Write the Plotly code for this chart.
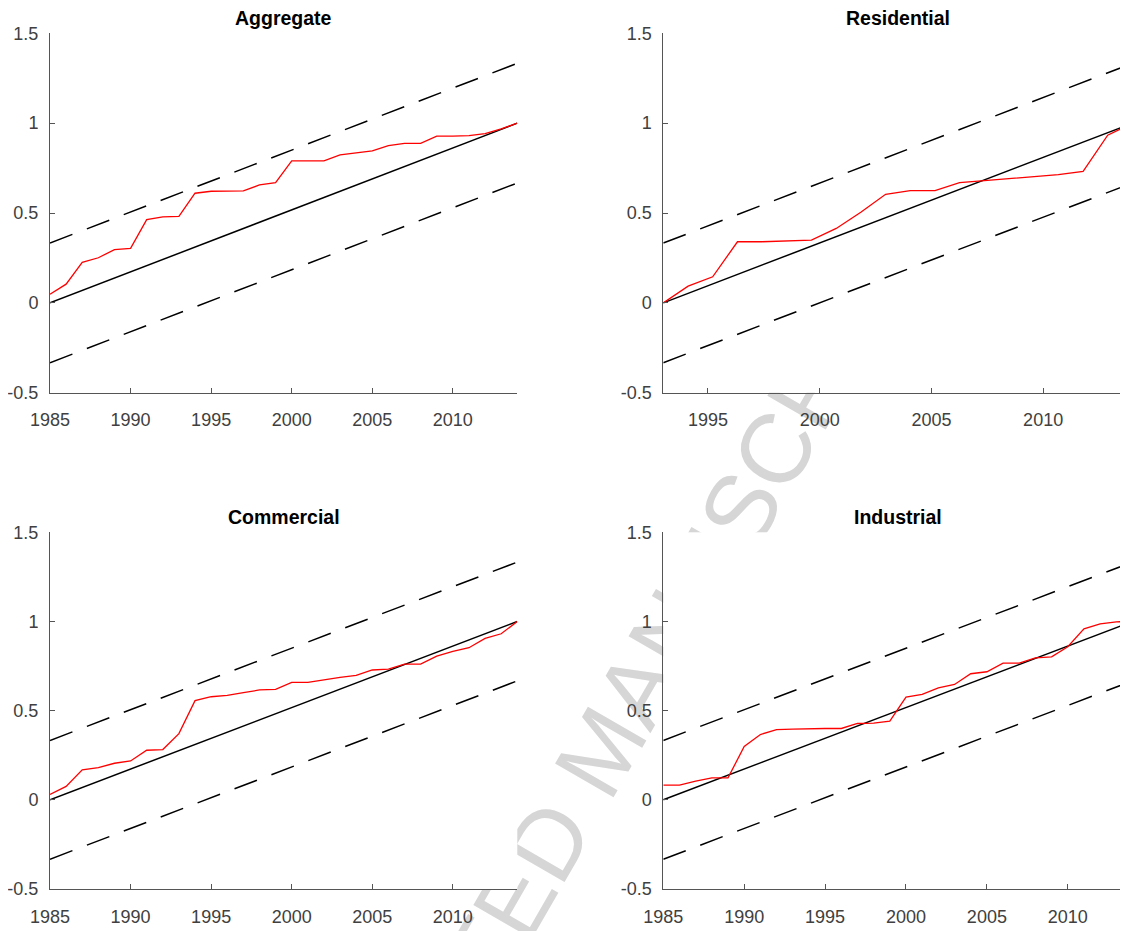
import plotly.graph_objects as go

# ---------------- data ----------------
years = [1985, 1986, 1987, 1988, 1989, 1990, 1991, 1992, 1993, 1994,
         1995, 1996, 1997, 1998, 1999, 2000, 2001, 2002, 2003, 2004,
         2005, 2006, 2007, 2008, 2009, 2010, 2011, 2012, 2013, 2014]

years_res = [1993.00, 1994.11, 1995.21, 1996.32, 1997.42, 1998.53, 1999.63,
             2000.74, 2001.84, 2002.95, 2004.05, 2005.16, 2006.26, 2007.37,
             2008.47, 2009.58, 2010.68, 2011.79, 2012.89, 2014.00]

aggregate = [0.048, 0.104, 0.225, 0.251, 0.296, 0.303, 0.463, 0.478, 0.481, 0.610,
             0.621, 0.623, 0.623, 0.656, 0.669, 0.790, 0.790, 0.790, 0.823, 0.833,
             0.846, 0.875, 0.887, 0.888, 0.928, 0.928, 0.931, 0.942, 0.968, 1.000]

residential = [0.000, 0.093, 0.145, 0.340, 0.340, 0.346, 0.349, 0.414, 0.504, 0.604,
               0.625, 0.625, 0.669, 0.680, 0.690, 0.703, 0.714, 0.732, 0.933, 1.000]

commercial = [0.030, 0.075, 0.168, 0.181, 0.205, 0.218, 0.278, 0.282, 0.371, 0.556,
              0.578, 0.586, 0.601, 0.616, 0.619, 0.659, 0.659, 0.674, 0.687, 0.698,
              0.728, 0.733, 0.761, 0.761, 0.806, 0.832, 0.853, 0.905, 0.931, 1.000]

industrial = [0.082, 0.082, 0.105, 0.123, 0.123, 0.299, 0.366, 0.394, 0.396, 0.400,
              0.400, 0.400, 0.428, 0.430, 0.441, 0.576, 0.591, 0.628, 0.647, 0.707,
              0.718, 0.766, 0.766, 0.796, 0.802, 0.858, 0.959, 0.987, 0.998, 1.000]

expected_line = [0.0, 1.0]     # expected path (start, end)
band_width = 0.333            # critical bound offset

yticks = [-0.5, 0, 0.5, 1, 1.5]
ytick_labels = ["-0.5", "0", "0.5", "1", "1.5"]
xticks_full = [1985, 1990, 1995, 2000, 2005, 2010]
xticks_res = [1995, 2000, 2005, 2010]

titles = ["Aggregate", "Residential", "Commercial", "Industrial"]
watermark = "ACCEPTED MANUSCRIPT"

# ---------------- layout geometry ----------------
W, H = 1128, 931
OFF = 8  # page offset of the figure inside the browser window


def px(sx):
    return (sx - OFF) / W


def py(sy):
    return 1 - (sy - OFF) / H


left_dom = [px(50), px(517.3)]
right_dom = [px(663.3), px(1132.5)]
top_dom = [py(392.7), py(33.3)]
bot_dom = [py(889.0), py(532.3)]

panels = [
    dict(title=titles[0], x=years, y=aggregate, xr=[1985, 2014], xt=xticks_full,
         xd=left_dom, yd=top_dom, n=2),
    dict(title=titles[1], x=years_res, y=residential, xr=[1993, 2014], xt=xticks_res,
         xd=right_dom, yd=top_dom, n=3),
    dict(title=titles[2], x=years, y=commercial, xr=[1985, 2014], xt=xticks_full,
         xd=left_dom, yd=bot_dom, n=4),
    dict(title=titles[3], x=years, y=industrial, xr=[1985, 2014], xt=xticks_full,
         xd=right_dom, yd=bot_dom, n=5),
]

fig = go.Figure()

# full-page background subplot (lets the panel backgrounds hide the watermark)
fig.add_trace(go.Scatter(x=[0], y=[0], mode="markers", marker=dict(opacity=0),
                         hoverinfo="skip", showlegend=False, xaxis="x", yaxis="y"))

axis_font = dict(family="Liberation Sans, Arial, sans-serif", size=18, color="#404040")
axcol = "#555555"

layout_axes = {
    "xaxis": dict(domain=[0, 1], range=[0, 1], visible=False, fixedrange=True, automargin=False),
    "yaxis": dict(domain=[0, 1], range=[0, 1], visible=False, fixedrange=True, automargin=False),
}

annotations = []
for p in panels:
    n = p["n"]
    xa, ya = f"x{n}", f"y{n}"
    xs = [p["x"][0], p["x"][-1]]
    # expected line
    fig.add_trace(go.Scatter(x=xs, y=expected_line, mode="lines",
                             line=dict(color="black", width=1.5),
                             xaxis=xa, yaxis=ya, showlegend=False, hoverinfo="skip"))
    # bounds
    fig.add_trace(go.Scatter(x=xs, y=[v + band_width for v in expected_line], mode="lines",
                             line=dict(color="black", width=1.5, dash="24px,15.5px"),
                             xaxis=xa, yaxis=ya, showlegend=False, hoverinfo="skip"))
    fig.add_trace(go.Scatter(x=xs, y=[v - band_width for v in expected_line], mode="lines",
                             line=dict(color="black", width=1.5, dash="24px,15.5px"),
                             xaxis=xa, yaxis=ya, showlegend=False, hoverinfo="skip"))
    # statistic
    fig.add_trace(go.Scatter(x=p["x"], y=p["y"], mode="lines",
                             line=dict(color="#ff0000", width=1.3),
                             xaxis=xa, yaxis=ya, showlegend=False, name=p["title"]))

    layout_axes[f"xaxis{n}"] = dict(
        domain=p["xd"], anchor=ya, range=p["xr"], tickmode="array",
        tickvals=p["xt"], ticktext=[str(t) for t in p["xt"]],
        showline=True, linecolor=axcol, linewidth=1, ticks="inside", ticklen=5,
        tickcolor=axcol, tickwidth=1, showgrid=False, zeroline=False, automargin=False,
        tickfont=axis_font, ticklabelstandoff=11)
    layout_axes[f"yaxis{n}"] = dict(
        domain=p["yd"], anchor=xa, range=[-0.5, 1.5], tickmode="array",
        tickvals=yticks, ticktext=ytick_labels,
        showline=True, linecolor=axcol, linewidth=1, ticks="inside", ticklen=5,
        tickcolor=axcol, tickwidth=1, showgrid=False, zeroline=False, automargin=False,
        tickfont=axis_font, ticklabelstandoff=7)

    annotations.append(dict(
        text=f"<b>{p['title']}</b>", xref="paper", yref="paper",
        x=(p["xd"][0] + p["xd"][1]) / 2, y=p["yd"][1] + 15.5 / H,
        xanchor="center", yanchor="middle", showarrow=False,
        font=dict(family="Liberation Sans, Arial, sans-serif", size=19.5, color="black")))

# watermark (drawn below the panels' white backgrounds)
wx, wy = px(594), py(745)
shapes = [dict(type="rect", xref="paper", yref="paper",
               x0=wx - 0.02, x1=wx + 0.02, y0=wy - 0.02, y1=wy + 0.02,
               line=dict(width=0), fillcolor="rgba(0,0,0,0)", layer="below",
               label=dict(text=watermark, textangle=-60, textposition="middle center",
                          font=dict(family="Liberation Sans, Arial, sans-serif",
                                    size=98, color="#d6d6d6")))]

fig.update_layout(
    width=W, height=H,
    margin=dict(l=0, r=0, t=0, b=0, pad=0, autoexpand=False),
    paper_bgcolor="white", plot_bgcolor="white",
    showlegend=False,
    annotations=annotations,
    shapes=shapes,
    **layout_axes,
)

fig.write_html("out.html")
